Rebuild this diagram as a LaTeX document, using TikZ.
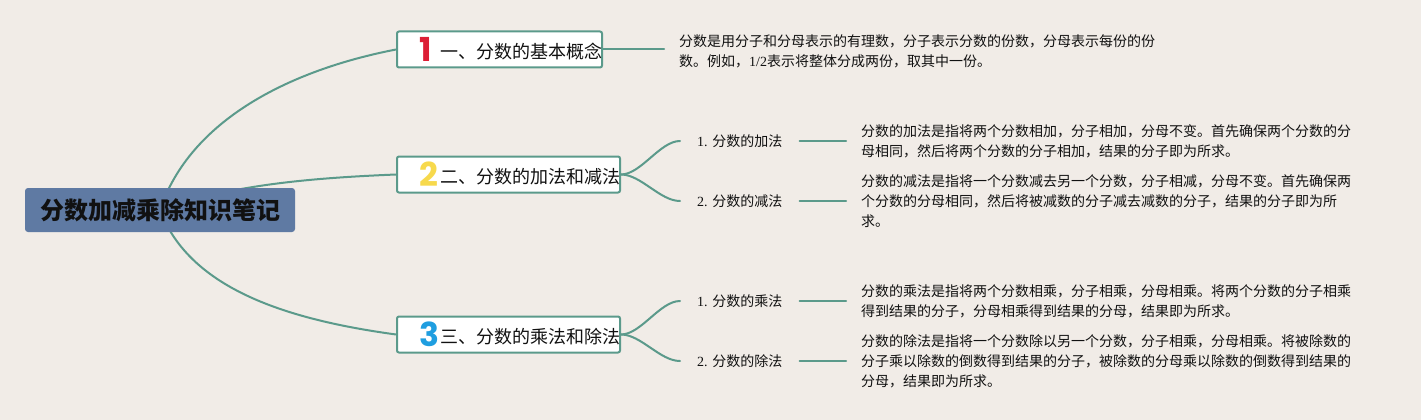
\documentclass[tikz,border=0pt]{standalone}
\usepackage{fontspec}
\setmainfont{Liberation Serif}
\newfontfamily\cjk{Noto Sans CJK SC}
\newfontfamily\iconfont{Poppins}
\usetikzlibrary{backgrounds,calc}
\definecolor{pagebg}{HTML}{F1ECE7}
\definecolor{linkc}{HTML}{5B9A8B}
\definecolor{rootc}{HTML}{5F7AA3}
\definecolor{inkc}{HTML}{111111}
\definecolor{onec}{HTML}{DC1E35}
\definecolor{twoc}{HTML}{F7D94C}
\definecolor{threec}{HTML}{1F9EE0}
\newcommand{\branchtext}[2]{\hspace{22pt}\makebox[21pt][l]{\raisebox{-3pt}{\fontsize{33}{33}\iconfont\bfseries\color{#1}\ifcase#2\or 1\or 2\or 3\fi}}}
\tikzset{
  x=1pt,y=-1pt,
  rootbox/.style={draw=none,fill=rootc,rounded corners=3pt,minimum width=270pt,minimum height=44pt,inner sep=0pt,text=inkc,font=\fontsize{24}{28}\cjk\bfseries},
  branchbox/.style={anchor=west,draw=linkc,line width=2pt,fill=white,rounded corners=2pt,minimum height=36pt,inner sep=0pt,text=inkc,font=\fontsize{18}{22}\cjk},
  subnode/.style={anchor=west,inner xsep=17pt,inner ysep=0pt,text=inkc,font=\fontsize{14}{20}\selectfont},
  detail/.style={anchor=west,align=left,inner xsep=15pt,inner ysep=0pt,text=inkc,font=\fontsize{14}{20}\cjk},
  link/.style={draw=linkc,line width=2pt,line cap=round},
}
\begin{document}
\begin{tikzpicture}
\useasboundingbox (0,0) rectangle (1421,420);
\node[rootbox] (root) at (160,210) {分数加减乘除知识笔记};
\node[branchbox] (b1) at (396,49.5) {\branchtext{onec}{1}一、分数的基本概念\hspace{13pt}};
\node[branchbox] (b2) at (396,174.5) {\branchtext{twoc}{2}二、分数的加法和减法\hspace{14pt}};
\node[branchbox] (b3) at (396,334.5) {\branchtext{threec}{3}三、分数的乘法和除法\hspace{14pt}};
\node[subnode] (s1) at (680,141) {1. {\cjk 分数的加法}};
\node[subnode] (s2) at (680,201) {2. {\cjk 分数的减法}};
\node[subnode] (s3) at (680,301) {1. {\cjk 分数的乘法}};
\node[subnode] (s4) at (680,361) {2. {\cjk 分数的除法}};
\node[detail] (d0) at (664,51) {分数是用分子和分母表示的有理数，分子表示分数的份数，分母表示每份的份\\数。例如，{\rmfamily 1/2}表示将整体分成两份，取其中一份。};
\node[detail] (d1) at (846,141) {分数的加法是指将两个分数相加，分子相加，分母不变。首先确保两个分数的分\\母相同，然后将两个分数的分子相加，结果的分子即为所求。};
\node[detail] (d2) at (846,201) {分数的减法是指将一个分数减去另一个分数，分子相减，分母不变。首先确保两\\个分数的分母相同，然后将被减数的分子减去减数的分子，结果的分子即为所\\求。};
\node[detail] (d3) at (846,301) {分数的乘法是指将两个分数相乘，分子相乘，分母相乘。将两个分数的分子相乘\\得到结果的分子，分母相乘得到结果的分母，结果即为所求。};
\node[detail] (d4) at (846,361) {分数的除法是指将一个分数除以另一个分数，分子相乘，分母相乘。将被除数的\\分子乘以除数的倒数得到结果的分子，被除数的分母乘以除数的倒数得到结果的\\分母，结果即为所求。};
\begin{pgfonlayer}{background}
\fill[pagebg] (0,0) rectangle (1421,420);
\draw[link] (root.center) .. controls (190,120) and (290,70) .. (b1.west);
\draw[link] (root.center) .. controls (230,185) and (310,178) .. (b2.west);
\draw[link] (root.center) .. controls (190,290) and (290,320) .. (b3.west);
\draw[link] (b1.east) -- (b1.east -| d0.west);
\draw[link] (b2.east) .. controls +(20,0) and +(-20,0) .. (s1.west);
\draw[link] (b2.east) .. controls +(20,0) and +(-20,0) .. (s2.west);
\draw[link] (b3.east) .. controls +(20,0) and +(-20,0) .. (s3.west);
\draw[link] (b3.east) .. controls +(20,0) and +(-20,0) .. (s4.west);
\draw[link] (s1.east) -- (d1.west);
\draw[link] (s2.east) -- (d2.west);
\draw[link] (s3.east) -- (d3.west);
\draw[link] (s4.east) -- (d4.west);
\end{pgfonlayer}
\end{tikzpicture}
\end{document}
